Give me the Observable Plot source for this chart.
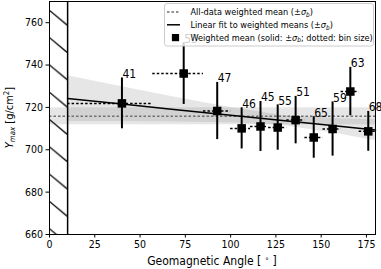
<!DOCTYPE html>
<html>
<head>
<meta charset="utf-8">
<script src="https://cdn.jsdelivr.net/npm/d3@7"></script>
<script src="https://cdn.jsdelivr.net/npm/@observablehq/plot@0.6"></script>
<style>
  html, body { margin: 0; padding: 0; background: white; }
</style>
</head>
<body>
<div id="chart"></div>
<script>
// ---- data ----
const angle  = [40.0, 74.1, 92.6, 106.1, 116.5, 126.0, 135.9, 145.9, 156.3, 166.1, 176.0];
const ymax   = [721.9, 736.0, 718.3, 710.1, 711.0, 710.5, 714.0, 705.8, 709.8, 727.5, 708.7];
const sigma  = [12.0, 14.6, 13.5, 9.7, 11.8, 10.7, 11.2, 9.8, 12.8, 11.4, 9.4];
const binLo  = [10, 57, 85, 100, 111, 121, 131, 141, 151, 161, 171];
const binHi  = [57, 85, 100, 111, 121, 131, 141, 151, 161, 171, 180];
const counts = ["41", "53", "47", "46", "45", "55", "51", "65", "59", "63", "68"];

const meanY = 715.8, meanSigma = 4.0;

const fitX  = [10, 40, 70, 100, 130, 160, 180];
const fitY  = [724.2, 721.6, 718.9, 716.3, 713.7, 711.1, 709.3];
const fitLo = [713.4, 713.3, 713.1, 712.7, 711.3, 707.5, 704.3];
const fitHi = [735.0, 729.8, 724.7, 719.9, 716.1, 714.7, 714.3];

const excluded = [0, 10];
const xDomain = [0, 180], yDomain = [660, 770];
const xTicks = [0, 25, 50, 75, 100, 125, 150, 175];
const yTicks = [660, 680, 700, 720, 740, 760];

const legendItems = [
  {kind: "dotted", text: "All-data weighted mean (±"},
  {kind: "solid", text: "Linear fit to weighted means (±"},
  {kind: "square", text: "Weighted mean (solid: ±", tail: "; dotted: bin size)"}
];

// ---- build tables ----
const points = angle.map((x, i) => ({x, y: ymax[i], s: sigma[i], lo: binLo[i], hi: binHi[i], n: counts[i],
  top: ymax[i] + sigma[i], bot: ymax[i] - sigma[i]}));
const fit = fitX.map((x, i) => ({x, y: fitY[i], lo: fitLo[i], hi: fitHi[i]}));

const FONT = "'DejaVu Sans Condensed', 'DejaVu Sans', sans-serif";
const M = {left: 49, right: 6, top: 1, bottom: 35};
const W = 381, H = 269;

const chart = Plot.plot({
  width: W, height: H,
  marginLeft: M.left, marginRight: M.right, marginTop: M.top, marginBottom: M.bottom,
  x: {domain: xDomain},
  y: {domain: yDomain},
  style: {fontFamily: FONT, fontSize: "10.5px", color: "black", background: "white", overflow: "visible"},
  marks: [
    Plot.rect([{x1: xDomain[0], x2: xDomain[1], y1: meanY - meanSigma, y2: meanY + meanSigma}],
      {x1: "x1", x2: "x2", y1: "y1", y2: "y2", fill: "gray", fillOpacity: 0.2}),
    Plot.areaY(fit, {x: "x", y1: "lo", y2: "hi", fill: "gray", fillOpacity: 0.2}),
    Plot.ruleY([meanY], {stroke: "#707070", strokeWidth: 1.5, strokeDasharray: "2.5,2"}),
    Plot.line(fit, {x: "x", y: "y", stroke: "black", strokeWidth: 1.5}),
    Plot.rect([{x1: excluded[0], x2: excluded[1], y1: yDomain[0], y2: yDomain[1]}],
      {x1: "x1", x2: "x2", y1: "y1", y2: "y2", fill: "url(#hatch)"}),
    Plot.ruleX([excluded[1]], {stroke: "black", strokeWidth: 1.5}),
    Plot.ruleY(points, {x1: "lo", x2: "hi", y: "y", stroke: "black", strokeWidth: 1.5, strokeDasharray: "2.5,2"}),
    Plot.ruleX(points, {x: "x", y1: "bot", y2: "top", stroke: "black", strokeWidth: 2}),
    Plot.dot(points, {x: "x", y: "y", symbol: "square", r: 4.8, fill: "black", stroke: "none"}),
    Plot.text(points, {x: "x", y: "top", text: "n", textAnchor: "start", lineAnchor: "bottom", dx: 0.5, fontSize: 12, fill: "black"}),
    Plot.axisX({ticks: xTicks, tickSize: 3.5, tickPadding: 3, label: null}),
    Plot.axisY({ticks: yTicks, tickSize: 3.5, tickPadding: 3, label: null}),
    Plot.frame({stroke: "black"})
  ]
});

document.getElementById("chart").appendChild(chart);

const svg = d3.select(chart);
const xs = chart.scale("x");
const hx0 = xs.apply(excluded[0]), hx1 = xs.apply(excluded[1]);
const hw = hx1 - hx0;

// hatch pattern
const defs = svg.insert("defs", ":first-child");
const pat = defs.append("pattern").attr("id", "hatch").attr("patternUnits", "userSpaceOnUse")
  .attr("x", hx0).attr("y", 10).attr("width", hw).attr("height", 27.3);
pat.append("path").attr("d", `M0,0L${hw},${hw * 0.83}`).attr("stroke", "black").attr("stroke-width", 1.2).attr("fill", "none");

// axis labels
const pLeft = M.left, pRight = W - M.right, pTop = M.top, pBottom = H - M.bottom;
const yl = svg.append("text").attr("transform", `translate(12.5,${(pTop + pBottom) / 2}) rotate(-90)`)
  .attr("text-anchor", "middle").attr("font-family", FONT).attr("font-size", 11).attr("fill", "black");
yl.append("tspan").attr("font-style", "italic").text("Y");
yl.append("tspan").attr("font-style", "italic").attr("font-size", 7.8).attr("dy", 2).text("max");
yl.append("tspan").attr("dy", -2).text(" [g/cm");
yl.append("tspan").attr("font-size", 7.8).attr("dy", -4).text("2");
yl.append("tspan").attr("dy", 4).text("]");

const xl = svg.append("text").attr("x", (pLeft + pRight) / 2).attr("y", 264.5)
  .attr("text-anchor", "middle").attr("font-family", FONT).attr("font-size", 12).attr("fill", "black");
xl.append("tspan").text("Geomagnetic Angle [ ");
xl.append("tspan").attr("font-size", 7.8).attr("dy", -4).text("∘");
xl.append("tspan").attr("dy", 4).text(" ]");

// legend
const lg = svg.append("g").attr("font-family", FONT).attr("font-size", 9.1).attr("text-anchor", "start");
lg.append("rect").attr("x", 164.5).attr("y", 3.5).attr("width", 209).attr("height", 42.5).attr("rx", 2.5)
  .attr("fill", "white").attr("fill-opacity", 0.8).attr("stroke", "#cccccc").attr("stroke-width", 1);
legendItems.forEach((d, i) => {
  const cy = 12 + i * 12.8;
  if (d.kind === "dotted") {
    lg.append("line").attr("x1", 167).attr("x2", 180).attr("y1", cy).attr("y2", cy)
      .attr("stroke", "#707070").attr("stroke-width", 1.5).attr("stroke-dasharray", "2.5,2");
  } else if (d.kind === "solid") {
    lg.append("line").attr("x1", 167).attr("x2", 180).attr("y1", cy).attr("y2", cy)
      .attr("stroke", "black").attr("stroke-width", 1.5);
  } else {
    lg.append("rect").attr("x", 175.5 - 3.6).attr("y", cy - 3.6).attr("width", 7.2).attr("height", 7.2).attr("fill", "black");
  }
  const t = lg.append("text").attr("x", 190.5).attr("y", cy + 3.3).attr("fill", "black").attr("text-anchor", "start");
  t.append("tspan").text(d.text);
  t.append("tspan").attr("font-style", "italic").text("σ");
  t.append("tspan").attr("font-style", "italic").attr("font-size", 6.5).attr("dy", 1.5).text("b");
  t.append("tspan").attr("dy", -1.5).text(d.tail || ")");
});
</script>
</body>
</html>
